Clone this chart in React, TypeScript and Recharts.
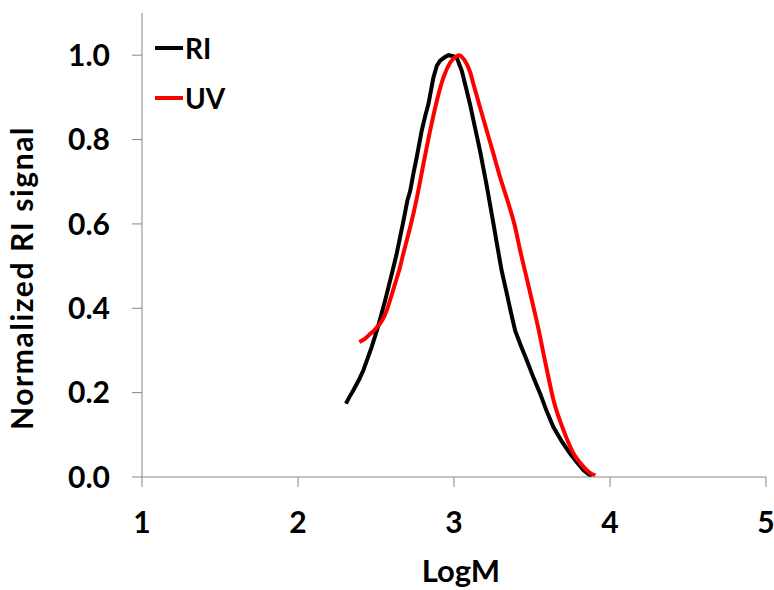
import React from 'react';
import { LineChart, Line, XAxis, YAxis, Legend, Label } from 'recharts';

// RI trace (black)
const riLogM = [
  2.307, 2.33, 2.354, 2.39, 2.419, 2.445, 2.472, 2.515, 2.558, 2.601, 2.63, 2.654,
  2.68, 2.701, 2.719, 2.74, 2.761, 2.793, 2.815, 2.836, 2.868, 2.89, 2.911, 2.94,
  2.964, 2.99, 3.018, 3.05, 3.082, 3.105, 3.125, 3.167, 3.21, 3.253, 3.275, 3.305,
  3.339, 3.365, 3.392, 3.43, 3.467, 3.51, 3.553, 3.595, 3.638, 3.69, 3.745, 3.79,
  3.831, 3.865, 3.884,
];
const riSignal = [
  0.174, 0.19, 0.205, 0.23, 0.253, 0.28, 0.308, 0.359, 0.418, 0.481, 0.525, 0.568,
  0.615, 0.655, 0.678, 0.72, 0.758, 0.821, 0.855, 0.884, 0.947, 0.975, 0.987, 0.995,
  1.0, 0.998, 0.994, 0.963, 0.915, 0.88, 0.845, 0.773, 0.69, 0.6, 0.553, 0.49,
  0.434, 0.39, 0.347, 0.31, 0.276, 0.235, 0.197, 0.155, 0.118, 0.085, 0.055, 0.034,
  0.016, 0.006, 0.002,
];

// UV trace (red)
const uvLogM = [
  2.393, 2.43, 2.462, 2.49, 2.515, 2.545, 2.569, 2.595, 2.622, 2.65, 2.675, 2.7,
  2.719, 2.761, 2.804, 2.847, 2.89, 2.932, 2.975, 3.018, 3.035, 3.05, 3.082, 3.105,
  3.125, 3.167, 3.21, 3.253, 3.296, 3.339, 3.392, 3.424, 3.467, 3.51, 3.545, 3.574,
  3.605, 3.638, 3.67, 3.702, 3.735, 3.767, 3.81, 3.852, 3.88, 3.906,
];
const uvSignal = [
  0.32, 0.328, 0.339, 0.348, 0.359, 0.375, 0.395, 0.425, 0.458, 0.492, 0.529, 0.565,
  0.592, 0.66, 0.742, 0.821, 0.892, 0.947, 0.982, 0.998, 1.0, 0.996, 0.979, 0.958,
  0.931, 0.876, 0.821, 0.766, 0.71, 0.66, 0.592, 0.537, 0.47, 0.402, 0.345, 0.292,
  0.237, 0.182, 0.143, 0.111, 0.08, 0.055, 0.033, 0.016, 0.008, 0.004,
];

const xTicks = [1, 2, 3, 4, 5];
const yTicks = [0, 0.2, 0.4, 0.6, 0.8, 1.0];

const riData = riLogM.map((x, i) => ({ x, y: riSignal[i] }));
const uvData = uvLogM.map((x, i) => ({ x, y: uvSignal[i] }));

const FONT = 'Lato, "Open Sans", sans-serif';
const AXIS = '#878787';

const tickStyle = { fill: '#000', fontSize: 30, fontWeight: 700, fontFamily: FONT };

const LegendBox = (props: any) => {
  const { payload } = props;
  return (
    <div style={{ fontFamily: FONT, fontWeight: 700, fontSize: 28 }}>
      {(payload || []).map((p: any) => (
        <div key={p.value} style={{ display: 'flex', alignItems: 'center', height: 50 }}>
          <span style={{ display: 'inline-block', width: 28, height: 4, background: p.color, marginRight: 2 }} />
          <span style={{ color: '#000' }}>{p.value}</span>
        </div>
      ))}
    </div>
  );
};

const YTitle = (props: any) => {
  const x = 33;
  const y = 278;
  return (
    <text x={x} y={y} transform={`rotate(-90, ${x}, ${y})`} textAnchor="middle"
      style={{ fontFamily: FONT, fontWeight: 700, fontSize: 30, letterSpacing: 1.6, fill: '#000' }}>
      Normalized RI signal
    </text>
  );
};

const XTitle = (props: any) => (
  <text x={461} y={582} textAnchor="middle"
    style={{ fontFamily: FONT, fontWeight: 700, fontSize: 31, fill: '#000' }}>
    LogM
  </text>
);

export default function App() {
  return (
    <div style={{ position: 'absolute', left: 0, top: 0, width: 774, height: 590, background: '#fff' }}>
      <LineChart width={774} height={590} margin={{ top: 13, right: 8, bottom: 0, left: 0 }}>
        <XAxis
          type="number"
          dataKey="x"
          domain={[1, 5]}
          ticks={xTicks}
          allowDataOverflow
          stroke={AXIS}
          tickSize={10}
          tickMargin={25}
          tick={tickStyle}
          height={113}
        >
          <Label content={<XTitle />} />
        </XAxis>
        <YAxis
          type="number"
          dataKey="y"
          domain={[0, 1.1]}
          ticks={yTicks}
          allowDataOverflow
          stroke={AXIS}
          tickSize={10}
          tickMargin={22}
          tick={tickStyle}
          tickFormatter={(v: number) => v.toFixed(1)}
          width={142}
        >
          <Label content={<YTitle />} />
        </YAxis>
        <Legend
          layout="vertical"
          verticalAlign="middle"
          align="center"
          content={<LegendBox />}
          wrapperStyle={{ position: 'absolute', top: 23, left: 155, width: 100 }}
        />
        <Line data={riData} dataKey="y" name="RI" type="linear" stroke="#000000" strokeWidth={4}
          dot={false} isAnimationActive={false} />
        <Line data={uvData} dataKey="y" name="UV" type="monotone" stroke="#ff0000" strokeWidth={4}
          dot={false} isAnimationActive={false} />
      </LineChart>
    </div>
  );
}
